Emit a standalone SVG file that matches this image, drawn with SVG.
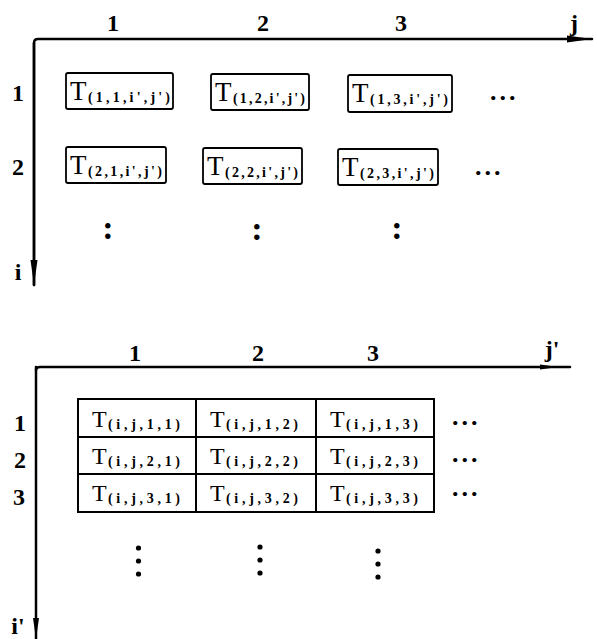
<svg xmlns="http://www.w3.org/2000/svg" width="597" height="639" viewBox="0 0 597 639">
<style>
.ax{stroke:#000;stroke-width:2.5;fill:none;stroke-linecap:round}
.lbl{font-family:"Liberation Serif",serif;font-weight:bold;font-size:24px;fill:#000}
.box{fill:#fff;stroke:#000;stroke-width:1.8}
.cell{fill:#fff;stroke:#000;stroke-width:2}
.T{font-family:"Liberation Serif",serif;font-size:27px;fill:#000}
.Tb{font-family:"Liberation Serif",serif;font-size:24px;fill:#000}
.sub{font-family:"Liberation Serif",serif;font-weight:bold;font-size:14px;fill:#000}
.dots{font-family:"Liberation Serif",serif;font-weight:bold;font-size:26px;letter-spacing:3px;fill:#000}
.vd{font-family:"Liberation Serif",serif;font-weight:bold;font-size:34px;fill:#000;text-anchor:middle}
.dot{fill:#000}
</style>
<defs>
<marker id="ah" viewBox="0 0 10 4" refX="10" refY="2" markerWidth="10" markerHeight="4" markerUnits="strokeWidth" orient="auto">
<path d="M0,0.6 L10,2 L0,3.4 Z" fill="#000"/>
</marker>
</defs>
<g id="connectors">
<path class="ax" d="M34,285 L34,43 Q34,39 38,39 L592,39" marker-end="url(#ah)"/>
<path class="ax" d="M34,43 L34,285" marker-end="url(#ah)"/>
<path class="ax" d="M36,370 Q36,367 40,367 L570,367"/>
<path class="ax" d="M36,367 L36,639"/>
<path d="M540,364.5 L558,367 L540,369.5 Z" fill="#000"/>
<path d="M33,618 L36,639 L39,618 Z" fill="#000"/>
</g>
<g id="axis-labels">
<text class="lbl" x="113" y="31" text-anchor="middle">1</text>
<text class="lbl" x="263" y="31" text-anchor="middle">2</text>
<text class="lbl" x="401" y="31" text-anchor="middle">3</text>
<text class="lbl" x="574" y="31" text-anchor="middle">j</text>
<text class="lbl" x="18" y="101" text-anchor="middle">1</text>
<text class="lbl" x="18" y="175" text-anchor="middle">2</text>
<text class="lbl" x="18" y="280" text-anchor="middle">i</text>
<text class="lbl" x="135" y="361" text-anchor="middle">1</text>
<text class="lbl" x="258" y="361" text-anchor="middle">2</text>
<text class="lbl" x="373" y="361" text-anchor="middle">3</text>
<text class="lbl" x="552" y="357" text-anchor="middle">j'</text>
<text class="lbl" x="20" y="431" text-anchor="middle">1</text>
<text class="lbl" x="20" y="468" text-anchor="middle">2</text>
<text class="lbl" x="19" y="505" text-anchor="middle">3</text>
<text class="lbl" x="18" y="634" text-anchor="middle">i'</text>
</g>
<g id="T11"><rect class="box" x="66" y="73" width="107" height="36" rx="2"/><text class="T" x="70" y="100">T</text><text class="sub" x="88" y="102" textLength="82" lengthAdjust="spacing">(1,1,i',j')</text></g>
<g id="T12"><rect class="box" x="211" y="74" width="98" height="36" rx="2"/><text class="T" x="215" y="101">T</text><text class="sub" x="233" y="103" textLength="72" lengthAdjust="spacing">(1,2,i',j')</text></g>
<g id="T13"><rect class="box" x="348" y="75" width="104" height="37" rx="2"/><text class="T" x="352" y="102">T</text><text class="sub" x="370" y="104" textLength="78" lengthAdjust="spacing">(1,3,i',j')</text></g>
<g id="T21"><rect class="box" x="66" y="147" width="100" height="36" rx="2"/><text class="T" x="70" y="174">T</text><text class="sub" x="88" y="176" textLength="74" lengthAdjust="spacing">(2,1,i',j')</text></g>
<g id="T22"><rect class="box" x="203" y="148" width="99" height="36" rx="2"/><text class="T" x="207" y="175">T</text><text class="sub" x="225" y="177" textLength="73" lengthAdjust="spacing">(2,2,i',j')</text></g>
<g id="T23"><rect class="box" x="338" y="149" width="100" height="36" rx="2"/><text class="T" x="342" y="176">T</text><text class="sub" x="360" y="178" textLength="74" lengthAdjust="spacing">(2,3,i',j')</text></g>
<g id="top-ellipses">
<text class="dots" x="490" y="100">...</text>
<text class="dots" x="475" y="175">...</text>
<text class="vd" x="108" y="239">:</text>
<text class="vd" x="257" y="240">:</text>
<text class="vd" x="397" y="239">:</text>
</g>
<g id="table">
<g id="C11"><rect class="cell" x="78" y="399" width="118" height="38"/><text class="Tb" x="92" y="427">T</text><text class="sub" x="108" y="429" textLength="72" lengthAdjust="spacing">(i,j,1,1)</text></g>
<g id="C12"><rect class="cell" x="196" y="399" width="120" height="38"/><text class="Tb" x="210" y="427">T</text><text class="sub" x="226" y="429" textLength="72" lengthAdjust="spacing">(i,j,1,2)</text></g>
<g id="C13"><rect class="cell" x="316" y="399" width="118" height="38"/><text class="Tb" x="330" y="427">T</text><text class="sub" x="346" y="429" textLength="72" lengthAdjust="spacing">(i,j,1,3)</text></g>
<g id="C21"><rect class="cell" x="78" y="437" width="118" height="37"/><text class="Tb" x="92" y="464">T</text><text class="sub" x="108" y="466" textLength="72" lengthAdjust="spacing">(i,j,2,1)</text></g>
<g id="C22"><rect class="cell" x="196" y="437" width="120" height="37"/><text class="Tb" x="210" y="464">T</text><text class="sub" x="226" y="466" textLength="72" lengthAdjust="spacing">(i,j,2,2)</text></g>
<g id="C23"><rect class="cell" x="316" y="437" width="118" height="37"/><text class="Tb" x="330" y="464">T</text><text class="sub" x="346" y="466" textLength="72" lengthAdjust="spacing">(i,j,2,3)</text></g>
<g id="C31"><rect class="cell" x="78" y="474" width="118" height="38"/><text class="Tb" x="92" y="501">T</text><text class="sub" x="108" y="503" textLength="72" lengthAdjust="spacing">(i,j,3,1)</text></g>
<g id="C32"><rect class="cell" x="196" y="474" width="120" height="38"/><text class="Tb" x="210" y="501">T</text><text class="sub" x="226" y="503" textLength="72" lengthAdjust="spacing">(i,j,3,2)</text></g>
<g id="C33"><rect class="cell" x="316" y="474" width="118" height="38"/><text class="Tb" x="330" y="501">T</text><text class="sub" x="346" y="503" textLength="72" lengthAdjust="spacing">(i,j,3,3)</text></g>
</g>
<g id="bottom-ellipses">
<text class="dots" x="452" y="425">...</text>
<text class="dots" x="452" y="462">...</text>
<text class="dots" x="452" y="496">...</text>
<circle class="dot" cx="138.5" cy="548" r="2.6"/><circle class="dot" cx="138.5" cy="561" r="2.6"/><circle class="dot" cx="138.5" cy="574" r="2.6"/>
<circle class="dot" cx="260" cy="547" r="2.6"/><circle class="dot" cx="260" cy="560" r="2.6"/><circle class="dot" cx="260" cy="573" r="2.6"/>
<circle class="dot" cx="378" cy="551" r="2.6"/><circle class="dot" cx="378" cy="564" r="2.6"/><circle class="dot" cx="378" cy="577" r="2.6"/>
</g>
</svg>
